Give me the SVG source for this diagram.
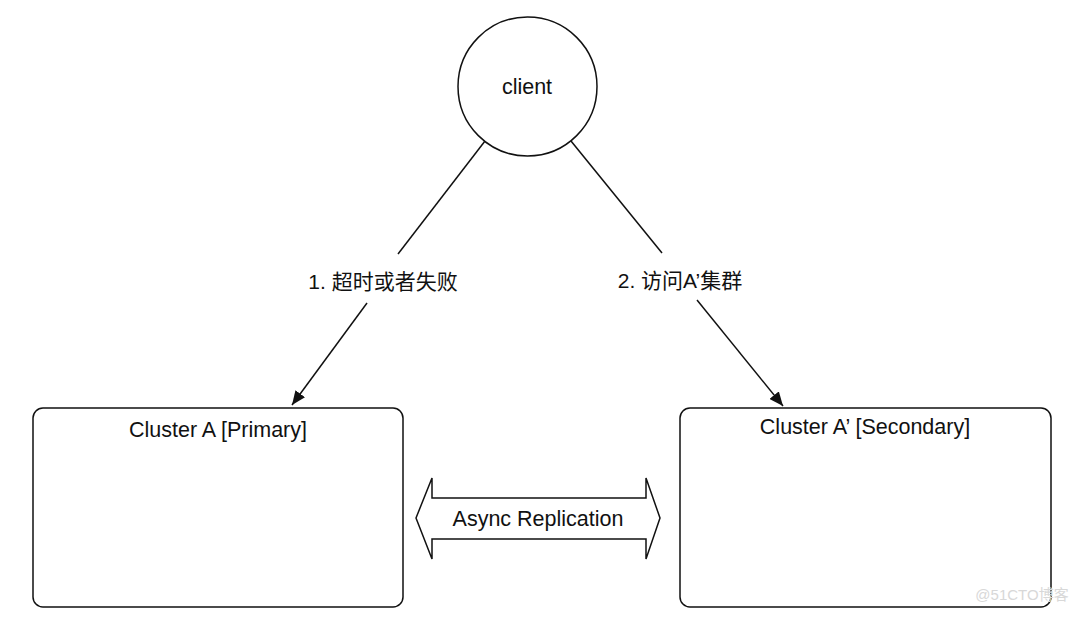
<svg xmlns="http://www.w3.org/2000/svg" width="1080" height="618" viewBox="0 0 1080 618">
<style>
.s{fill:none;stroke:#111;stroke-width:1.5}
.b{fill:#fff;stroke:#111;stroke-width:1.5}
.t{font-family:"Liberation Sans","Noto Sans CJK SC",sans-serif;font-size:21.5px;fill:#111;text-anchor:middle;dominant-baseline:central}
.c{font-size:21px}
</style>
<defs>
<marker id="ah2" viewBox="0 0 14 12" refX="14" refY="6" markerWidth="14" markerHeight="12" markerUnits="userSpaceOnUse" orient="auto">
<path d="M0,0 L14,6 L0,12 z" fill="#111"/>
</marker>
</defs>
<rect width="1080" height="618" fill="#fff"/>
<g id="connectors">
<line class="s" x1="485" y1="141" x2="398" y2="254"/>
<line class="s" x1="367" y1="303" x2="292" y2="405" marker-end="url(#ah2)"/>
<line class="s" x1="571" y1="141" x2="662" y2="253"/>
<line class="s" x1="697" y1="300" x2="783" y2="406" marker-end="url(#ah2)"/>
<text class="t c" x="383" y="281">1. 超时或者失败</text>
<text class="t c" x="680" y="280">2. 访问A’集群</text>
</g>
<g id="client">
<circle class="b" cx="527.5" cy="86.5" r="69.5"/>
<text class="t" x="527" y="87">client</text>
</g>
<g id="clusterA">
<rect class="b" x="33" y="408" width="370" height="199" rx="10"/>
<text class="t" x="218" y="430">Cluster A [Primary]</text>
</g>
<g id="clusterA2">
<rect class="b" x="680" y="408" width="371" height="199" rx="10"/>
<text class="t" x="865" y="427">Cluster A’ [Secondary]</text>
</g>
<g id="replication">
<path class="b" d="M416,518 L432,478 L432,498 L646,498 L646,478 L660,518 L646,559 L646,539 L432,539 L432,559 Z"/>
<text class="t" x="538" y="519">Async Replication</text>
</g>
<text x="1022" y="600" font-family="Liberation Sans,Noto Sans CJK SC,sans-serif" font-size="15" fill="#d8d8d8" text-anchor="middle">@51CTO博客</text>
</svg>
